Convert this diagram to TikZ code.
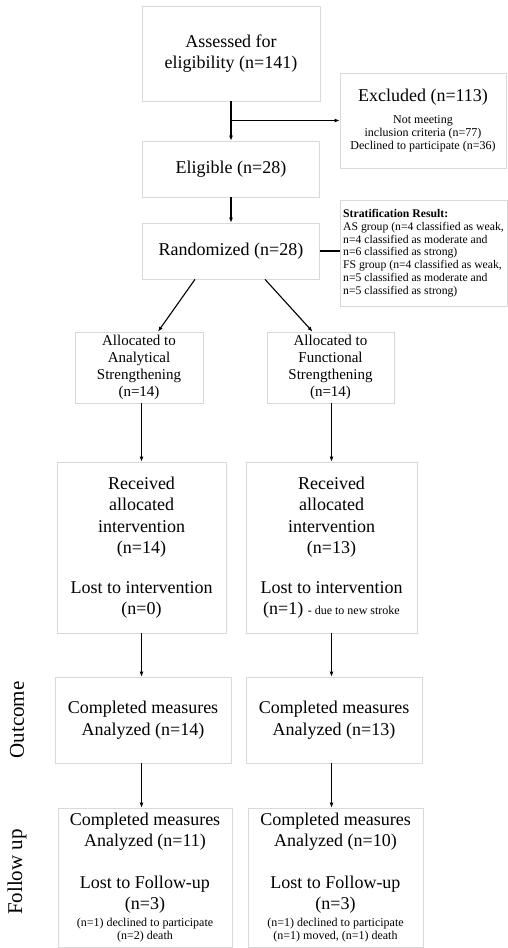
\documentclass[tikz,border=0pt]{standalone}
\usepackage{fontspec}
\setmainfont{Liberation Serif}
\usetikzlibrary{arrows.meta,positioning}
\newcommand\smallnote{\fontsize{12}{13}\selectfont}
\tikzset{
  basic/.style = {draw=gray!30, line width=0.7pt, align=center, inner sep=2pt},
  big/.style   = {basic, font=\fontsize{18}{21.5}\selectfont},
  mid/.style   = {basic, font=\fontsize{15}{17}\selectfont},
  note/.style  = {basic, font=\fontsize{11.7}{12.8}\selectfont, align=left, inner xsep=2pt},
  phase/.style = {rotate=90, font=\fontsize{21}{25}\selectfont},
  size/.style 2 args = {minimum width=#1, minimum height=#2}
}

\begin{document}
\begin{tikzpicture}[x=1pt, y=-1pt, line width=1.1pt,
  >={Latex[length=5pt,width=4pt]}]
\useasboundingbox (0,0) rectangle (507,948);

% enrolment
\node[big, size={178pt}{95pt}] (assess) at (231,53.5) {Assessed for\\ eligibility (n=141)};
\node[big, size={166pt}{95pt}] (excl) at (423,120.5) {Excluded (n=113)\\
  \smallnote Not meeting\\[-8.5pt]
  \smallnote inclusion criteria (n=77)\\[-8.5pt]
  \smallnote Declined to participate (n=36)};
\node[big, size={177pt}{56pt}] (elig) at (231,169) {Eligible (n=28)};
\node[big, size={177pt}{56pt}] (rand) at (231,251) {Randomized (n=28)};
\node[note, size={167pt}{106pt}] (strat) at (423.5,253) {\textbf{Stratification Result:}\\
  AS group (n=4 classified as weak,\\
  n=4 classified as moderate and\\
  n=6 classified as strong)\\
  FS group (n=4 classified as weak,\\
  n=5 classified as moderate and\\
  n=5 classified as strong)};

% allocation
\node[mid, size={128pt}{71pt}] (allocAS) at (139,367.5) {Allocated to\\ Analytical\\ Strengthening\\ (n=14)};
\node[mid, size={127pt}{71pt}] (allocFS) at (330.5,367.5) {Allocated to\\ Functional\\ Strengthening\\ (n=14)};

\node[big, size={169pt}{171pt}] (recvAS) at (141.5,547.5) {Received\\ allocated\\ intervention\\ (n=14)\\[18pt]
  Lost to intervention\\ (n=0)};
\node[big, size={171pt}{171pt}] (recvFS) at (331.5,547.5) {Received\\ allocated\\ intervention\\ (n=13)\\[18pt]
  Lost to intervention\\ (n=1) {\smallnote - due to new stroke}};

% outcome and follow up
\node[big, size={176pt}{86pt}] (outAS) at (143,720) {Completed measures\\ Analyzed (n=14)};
\node[big, size={176pt}{86pt}] (outFS) at (334,720) {Completed measures\\ Analyzed (n=13)};

\node[big, size={174pt}{139pt}] (fuAS) at (145,877.5) {Completed measures\\ Analyzed (n=11)\\[20pt]
  Lost to Follow-up\\ (n=3)\\[-5pt]
  \smallnote (n=1) declined to participate\\[-8.5pt]
  \smallnote (n=2) death};
\node[big, size={175pt}{139pt}] (fuFS) at (335.5,877.5) {Completed measures\\ Analyzed (n=10)\\[20pt]
  Lost to Follow-up\\ (n=3)\\[-5pt]
  \smallnote (n=1) declined to participate\\[-8.5pt]
  \smallnote (n=1) moved, (n=1) death};

\node[phase] (lblOut) at (17,720) {Outcome};
\node[phase] (lblFu) at (17,872) {Follow up};

% connectors
\draw[->] (assess) -- (elig);
\coordinate (split) at (assess.south |- excl.west);
\draw[->] (split) -- (excl.west);
\draw[->] (elig) -- (rand);
\draw (rand.east) -- (rand.east -| strat.west);
\draw[->] ([xshift=-36pt]rand.south) -- ([xshift=19pt]allocAS.north);
\draw[->] ([xshift=34pt]rand.south) -- ([xshift=-18pt]allocFS.north);

\foreach \g in {AS,FS} {
  \draw[->] (alloc\g.south -| recv\g) -- (recv\g.north);
  \draw[->] (recv\g.south) -- (recv\g.south |- out\g.north);
  \draw[->] (out\g.south -| recv\g) -- (recv\g |- fu\g.north);
}

\end{tikzpicture}
\end{document}
